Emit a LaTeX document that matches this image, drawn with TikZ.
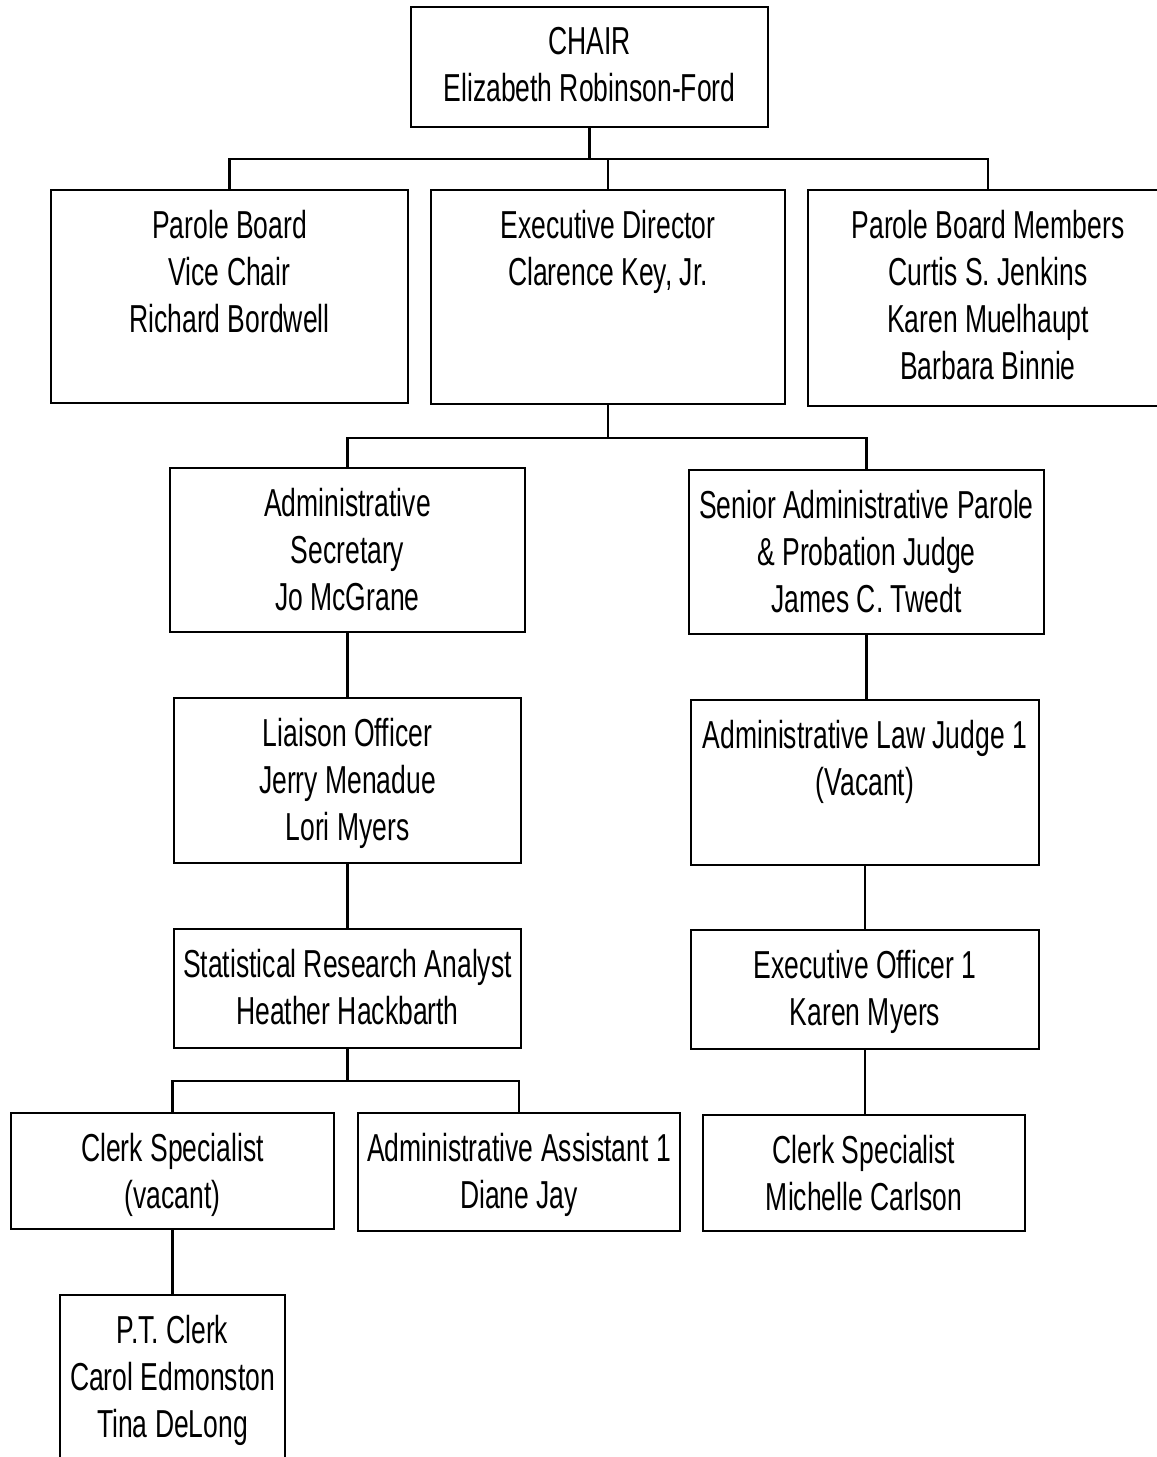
\documentclass[tikz,border=0pt]{standalone}
\usepackage{fontspec}
\setmainfont[FakeStretch=0.68]{Liberation Sans}
\usetikzlibrary{calc}
\tikzset{
  orgbox/.style={draw, line width=1pt, anchor=north west, inner sep=0},
  orgtext/.style={anchor=north, align=center, inner sep=0, yshift=-10.5pt, font=\fontsize{19.5}{23.5}\selectfont},
  link/.style={line width=1.2pt}
}

\begin{document}
\begin{tikzpicture}[x=.5pt,y=-.5pt]
\useasboundingbox (0,0) rectangle (1157,1457);
\clip (0,0) rectangle (1157,1457);
% top level
\node[orgbox, minimum width=178.5pt, minimum height=60pt] (chair) at (410,6) {};
\node[orgtext] (chairt) at (chair.north) {CHAIR\\Elizabeth Robinson-Ford};
\node[orgbox, minimum width=178.5pt, minimum height=106.5pt] (vice) at (50,189) {};
\node[orgtext] (vicet) at (vice.north) {Parole Board\\Vice Chair\\Richard Bordwell};
\node[orgbox, minimum width=177pt, minimum height=107pt] (exec) at (430,189) {};
\node[orgtext] (exect) at (exec.north) {Executive Director\\Clarence Key, Jr.};
\node[orgbox, minimum width=180pt, minimum height=108pt] (members) at (807,189) {};
\node[orgtext] (memberst) at (members.north) {Parole Board Members\\Curtis S. Jenkins\\Karen Muelhaupt\\Barbara Binnie};
% left branch
\node[orgbox, minimum width=177.5pt, minimum height=82pt] (adsec) at (169,467) {};
\node[orgtext] (adsect) at (adsec.north) {Administrative\\Secretary\\Jo McGrane};
\node[orgbox, minimum width=173.5pt, minimum height=82.5pt] (liaison) at (173,697) {};
\node[orgtext] (liaisont) at (liaison.north) {Liaison Officer\\Jerry Menadue\\Lori Myers};
\node[orgbox, minimum width=173.5pt, minimum height=59.5pt] (stat) at (173,928) {};
\node[orgtext] (statt) at (stat.north) {Statistical Research Analyst\\Heather Hackbarth};
\node[orgbox, minimum width=161.5pt, minimum height=58pt] (clerkv) at (10,1112) {};
\node[orgtext] (clerkvt) at (clerkv.north) {Clerk Specialist\\(vacant)};
\node[orgbox, minimum width=161pt, minimum height=59pt] (assist) at (357,1112) {};
\node[orgtext] (assistt) at (assist.north) {Administrative Assistant 1\\Diane Jay};
\node[orgbox, minimum width=112.5pt, minimum height=100pt] (ptclerk) at (59,1294) {};
\node[orgtext] (ptclerkt) at (ptclerk.north) {P.T. Clerk\\Carol Edmonston\\Tina DeLong};
% right branch
\node[orgbox, minimum width=177.5pt, minimum height=82pt] (senior) at (688,469) {};
\node[orgtext] (seniort) at (senior.north) {Senior Administrative Parole\\\& Probation Judge\\James C. Twedt};
\node[orgbox, minimum width=174pt, minimum height=82.5pt] (alj) at (690,699) {};
\node[orgtext] (aljt) at (alj.north) {Administrative Law Judge 1\\(Vacant)};
\node[orgbox, minimum width=174pt, minimum height=59.5pt] (eo) at (690,929) {};
\node[orgtext] (eot) at (eo.north) {Executive Officer 1\\Karen Myers};
\node[orgbox, minimum width=161pt, minimum height=58pt] (clerkm) at (702,1114) {};
\node[orgtext] (clerkmt) at (clerkm.north) {Clerk Specialist\\Michelle Carlson};
% connectors
\draw[link] (chair.south) -- ++(0,31) coordinate (bus1);
\draw[link] (vice.north) |- (bus1) -| (members.north);
\draw[link] (exec.north) -- (exec.north |- bus1);
\draw[link] (exec.south) -- ++(0,33) coordinate (bus2);
\draw[link] (adsec.north) |- (bus2) -| (senior.north);
\draw[link] (adsec.south) -- (liaison.north);
\draw[link] (liaison.south) -- (stat.north);
\draw[link] (stat.south) -- ++(0,32) coordinate (bus3);
\draw[link] (clerkv.north) |- (bus3) -| (assist.north);
\draw[link] (clerkv.south) -- (ptclerk.north);
\draw[link] (senior.south) -- (senior.south |- alj.north);
\draw[link] (alj.south) -- (eo.north);
\draw[link] (eo.south) -- (eo.south |- clerkm.north);
\end{tikzpicture}
\end{document}
